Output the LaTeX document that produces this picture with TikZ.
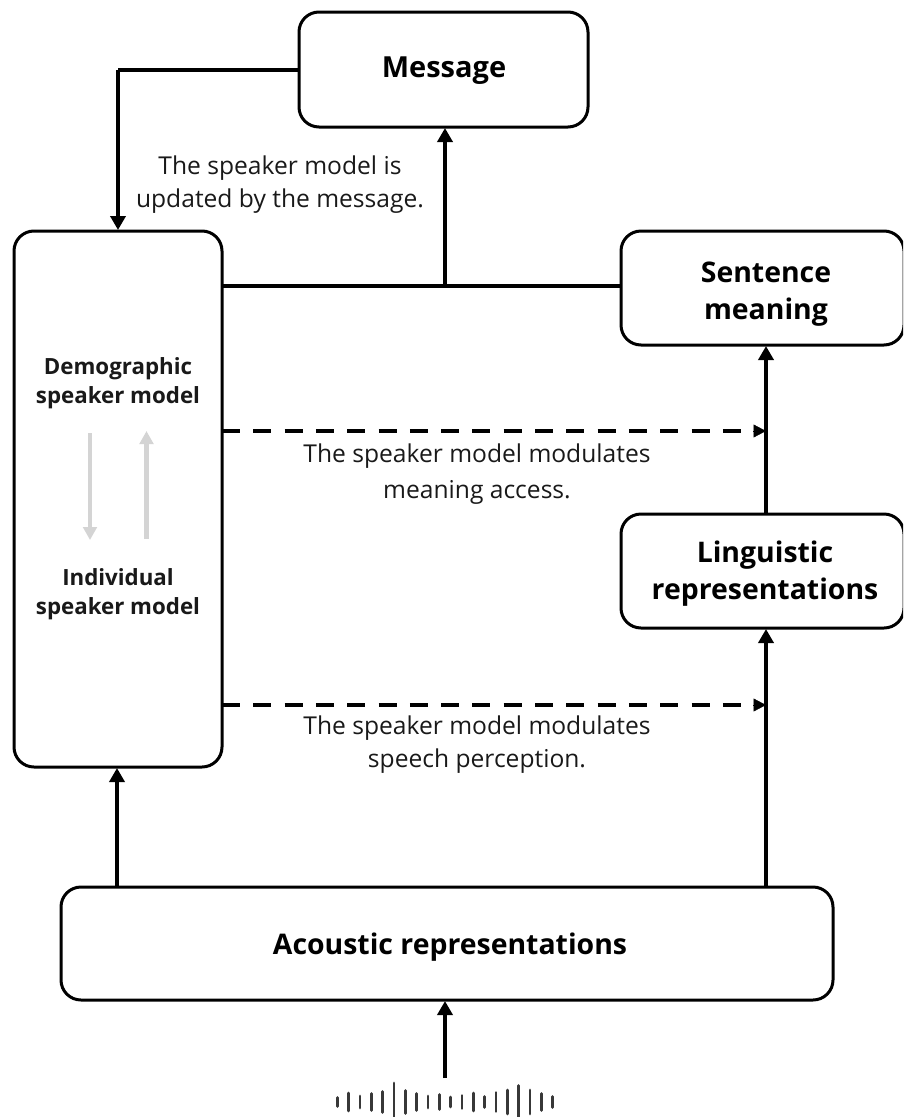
\documentclass[tikz,border=0pt]{standalone}
\usepackage{fontspec}
\setmainfont{Open Sans}
\usetikzlibrary{arrows.meta}
\tikzset{
  x=1pt,y=-1pt,
  box/.style={draw=black,line width=3pt,rounded corners=20pt,fill=white,align=center,inner sep=0pt,font=\bfseries\fontsize{28.4pt}{37pt}\selectfont},
  inbox/.style={align=center,inner sep=0pt,font=\bfseries\fontsize{22.3pt}{29pt}\selectfont,text=black!90},
  lbl/.style={align=center,inner sep=0pt,font=\fontsize{24.6pt}{33pt}\selectfont,text=black!90},
  lblw/.style={lbl,font=\fontsize{24.6pt}{35.5pt}\selectfont},
  conn/.style={line width=4pt,-{Triangle[length=14pt,width=15pt]},black},
  plain/.style={line width=4pt,black},
  dash conn/.style={line width=3.6pt,dash pattern=on 18pt off 13.3pt,black},
  tip only/.style={-{Triangle[length=12.5pt,width=13pt]},line width=0.5pt,black},
  grey conn/.style={line width=4.6pt,-{Triangle[length=13pt,width=13.5pt]},black!17},
  bar/.style={line width=2.8pt,line cap=round,black!78}
}
\begin{document}
\begin{tikzpicture}
\useasboundingbox (0,0) rectangle (903,1117);
\clip (0,0) rectangle (903,1117);
\node[box,minimum width=289pt,minimum height=115pt] (msg) at (443.5,69.5) {};
\node[box,minimum width=283pt,minimum height=114pt] (sent) at (762.5,288) {};
\node[box,minimum width=283pt,minimum height=114pt] (ling) at (762.5,571) {};
\node[box,minimum width=208pt,minimum height=536pt] (spk) at (118,499) {};
\node[box,minimum width=772pt,minimum height=113pt] (acou) at (447,943.5) {};
\node[box,draw=none,fill=none,font=\bfseries\fontsize{29pt}{37pt}\selectfont] (msgt) at (444,70.5) {Message};
\node[box,draw=none,fill=none] (sentt) at (766,294) {Sentence\\meaning};
\node[box,draw=none,fill=none] (lingt) at (765,574) {Linguistic\\representations};
\node[box,draw=none,fill=none] (acout) at (450,947) {Acoustic representations};
\node[inbox] (demo) at (118,383.5) {Demographic\\speaker model};
\node[inbox] (indi) at (118,594) {Individual\\speaker model};
\node[lbl] (l1) at (280,184.5) {The speaker model is\\updated by the message.};
\node[lblw] (l2) at (477,474) {The speaker model modulates\\meaning access.};
\node[lbl] (l3) at (477,745) {The speaker model modulates\\speech perception.};
\coordinate (corner) at (118,69.5);
\coordinate (spktop) at (118,230);
\coordinate (spkr) at (222,286);
\coordinate (sentl) at (621,286);
\coordinate (junc) at (445,286);
\coordinate (msgb) at (445,128);
\coordinate (d1s) at (222,431);
\coordinate (d1e) at (766,431);
\coordinate (d2s) at (222,705);
\coordinate (d2e) at (766,705);
\coordinate (t1s) at (753,431);
\coordinate (t2s) at (753,705);
\coordinate (d1m) at (745,431);
\coordinate (d2m) at (745,705);
\coordinate (senb) at (766,346);
\coordinate (lingt2) at (766,514);
\coordinate (lingb) at (766,629);
\coordinate (acoutop) at (766,887);
\coordinate (spkb) at (117,768);
\coordinate (acoutl) at (117,887);
\coordinate (acoub) at (445,1001);
\coordinate (wave) at (445,1078);
\coordinate (g1a) at (90,433);
\coordinate (g1b) at (90,540);
\coordinate (g2a) at (146.5,539);
\coordinate (g2b) at (146.5,431);
\draw[plain] (msg.west) -- (corner);
\draw[conn] (corner) -- (spktop);
\draw[plain] (spkr) -- (sentl);
\draw[conn] (junc) -- (msgb);
\draw[dash conn] (d1s) -- (d1m);
\draw[tip only] (t1s) -- (d1e);
\draw[dash conn] (d2s) -- (d2m);
\draw[tip only] (t2s) -- (d2e);
\draw[conn] (lingt2) -- (senb);
\draw[conn] (acoutop) -- (lingb);
\draw[conn] (acoutl) -- (spkb);
\draw[conn] (wave) -- (acoub);
\draw[grey conn] (g1a) -- (g1b);
\draw[grey conn] (g2a) -- (g2b);
\foreach \i/\h in {0/4.5,1/9,2/6,3/8.5,4/10.5,5/19,6/11.5,7/8.5,8/6,9/7.5,10/5,11/6.5,12/9,13/5.5,14/9.5,15/12,16/16.5,17/12,18/8.5,19/5.5}
  \draw[bar] (337.3+11.33*\i,1102-\h) -- (337.3+11.33*\i,1102+\h);
\end{tikzpicture}
\end{document}
